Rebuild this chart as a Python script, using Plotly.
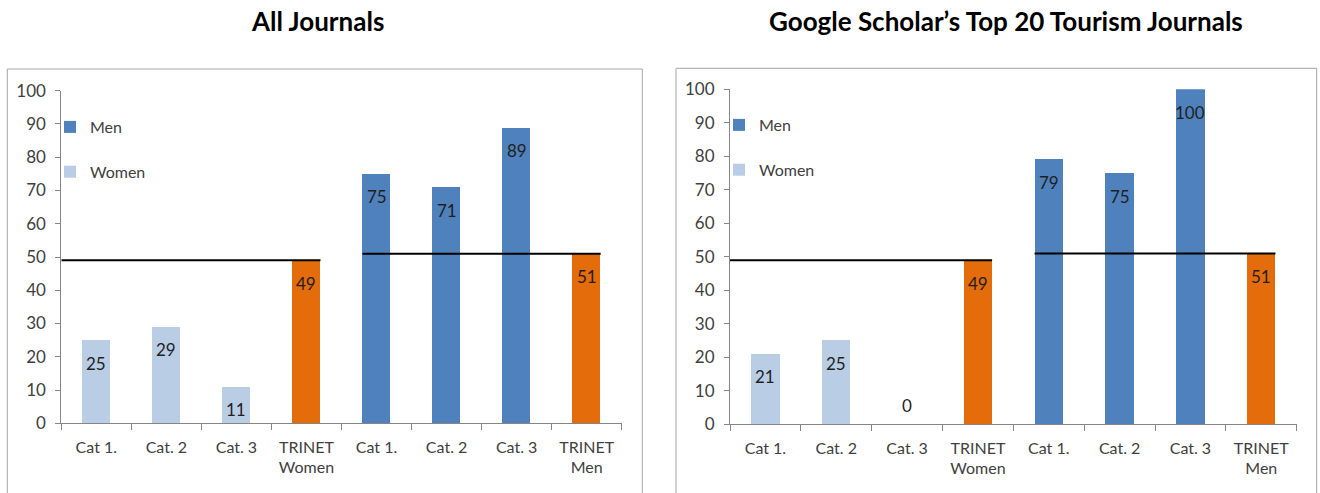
import plotly.graph_objects as go

# ---------------- data ----------------
categories = ["Cat 1.", "Cat. 2", "Cat. 3", "TRINET<br>Women",
              "Cat 1.", "Cat. 2", "Cat. 3", "TRINET<br>Men"]
women_all = [25, 29, 11]
men_all = [75, 71, 89]
trinet_all = [49, 51]          # TRINET women, TRINET men
women_top20 = [21, 25, 0]
men_top20 = [79, 75, 100]
trinet_top20 = [49, 51]
titles = ["All Journals", "Google Scholar’s Top 20 Tourism Journals"]
y_ticks = [0, 10, 20, 30, 40, 50, 60, 70, 80, 90, 100]

# ---------------- style ----------------
FONT = "Lato"
C_WOMEN = "#b9cde5"
C_MEN = "#4f81bd"
C_TRINET = "#e46c0a"
AXIS_C = "#868686"
TEXT_C = "#404040"
LABEL_C = "#1f1f1f"
BAR_W = 0.4

W, H = 1320, 493
panels = [
    dict(women=women_all, men=men_all, trinet=trinet_all,
         xdom=[61.3 / W, 621.7 / W], ydom=[69.7 / H, 402.3 / H],
         box=[7.3 / W, 642.3 / W, (H - 69) / H], title_x=317 / W,
         legend_xy=(50 / W, (H - 110) / H)),
    dict(women=women_top20, men=men_top20, trinet=trinet_top20,
         xdom=[730 / W, 1296.7 / W], ydom=[68.7 / H, 403.7 / H],
         box=[676 / W, 1316.7 / W, (H - 68.3) / H], title_x=1006.5 / W,
         legend_xy=(719 / W, (H - 108) / H)),
]

fig = go.Figure()
annotations = []
shapes = []

n_w = len(women_all)
x_women = list(range(n_w))
x_tw = n_w
x_men = list(range(n_w + 1, n_w + 1 + len(men_all)))
x_tm = n_w + 1 + len(men_all)
x_all = list(range(len(categories)))

for k, p in enumerate(panels):
    sfx = "" if k == 0 else str(k + 1)
    xa, ya = "x" + sfx, "y" + sfx
    leg = "legend" if k == 0 else "legend2"

    fig.add_trace(go.Bar(x=x_men, y=p["men"], width=BAR_W, name="Men",
                         marker=dict(color=C_MEN, line=dict(width=0)),
                         xaxis=xa, yaxis=ya, legend=leg, legendgroup="m" + sfx))
    fig.add_trace(go.Bar(x=x_women, y=p["women"], width=BAR_W, name="Women",
                         marker=dict(color=C_WOMEN, line=dict(width=0)),
                         xaxis=xa, yaxis=ya, legend=leg, legendgroup="w" + sfx))
    fig.add_trace(go.Bar(x=[x_tw, x_tm], y=p["trinet"], width=BAR_W, name="TRINET",
                         marker=dict(color=C_TRINET, line=dict(width=0)),
                         xaxis=xa, yaxis=ya, showlegend=False))
    # reference lines at TRINET share
    fig.add_trace(go.Scatter(x=[x_all[0] - 0.5, x_tw + BAR_W / 2],
                             y=[p["trinet"][0]] * 2, mode="lines",
                             line=dict(color="black", width=2),
                             xaxis=xa, yaxis=ya, showlegend=False, hoverinfo="skip"))
    fig.add_trace(go.Scatter(x=[x_men[0] - BAR_W / 2, x_tm + BAR_W / 2],
                             y=[p["trinet"][1]] * 2, mode="lines",
                             line=dict(color="black", width=2),
                             xaxis=xa, yaxis=ya, showlegend=False, hoverinfo="skip"))

    # data labels
    vals = list(p["women"]) + [p["trinet"][0]] + list(p["men"]) + [p["trinet"][1]]
    for xi, v in zip(x_all, vals):
        annotations.append(dict(
            x=xi, y=v, xref=xa, yref=ya, text=str(v), showarrow=False,
            yanchor="middle", yshift=(-23 if v > 0 else 19),
            font=dict(family=FONT, size=17, color=LABEL_C)))

    # axes
    fig.update_layout(**{
        "xaxis" + sfx: dict(
            domain=p["xdom"], anchor=ya, range=[-0.5, len(categories) - 0.5],
            tickmode="array", tickvals=x_all, ticktext=categories,
            ticks="", showline=True, linecolor=AXIS_C, linewidth=1,
            showgrid=False, zeroline=False, fixedrange=True, automargin=False,
            ticklabelstandoff=9,
            tickfont=dict(family=FONT, size=16, color=TEXT_C),
            minor=dict(tickmode="linear", tick0=-0.5, dtick=1, ticks="outside",
                       ticklen=6, tickcolor=AXIS_C, tickwidth=1, showgrid=False)),
        "yaxis" + sfx: dict(
            domain=p["ydom"], anchor=xa, range=[0, 100],
            tickmode="array", tickvals=y_ticks,
            ticks="outside", ticklen=5, tickcolor=AXIS_C,
            showline=True, linecolor=AXIS_C, linewidth=1,
            showgrid=False, zeroline=False, fixedrange=True, automargin=False,
            ticklabelstandoff=6,
            tickfont=dict(family=FONT, size=17, color=TEXT_C)),
        leg: dict(x=p["legend_xy"][0], y=p["legend_xy"][1], xanchor="left",
                  yanchor="top", bgcolor="rgba(0,0,0,0)", traceorder="grouped",
                  tracegroupgap=21, itemwidth=30, borderwidth=0,
                  font=dict(family=FONT, size=16, color=TEXT_C)),
    })

    # chart frame
    shapes.append(dict(type="rect", xref="paper", yref="paper",
                       x0=p["box"][0], x1=p["box"][1], y0=-0.2, y1=p["box"][2],
                       line=dict(color="#a6a6a6", width=1), layer="below"))
    # title
    annotations.append(dict(x=p["title_x"], y=(H - 21) / H, xref="paper", yref="paper",
                            text="<b>" + titles[k] + "</b>", showarrow=False,
                            xanchor="center", yanchor="middle",
                            font=dict(family=FONT, size=26, color="black")))

fig.update_layout(
    template="none",
    width=W, height=H, margin=dict(l=0, r=0, t=0, b=0, pad=0, autoexpand=False),
    paper_bgcolor="white", plot_bgcolor="white",
    barmode="overlay", bargap=0,
    annotations=annotations, shapes=shapes,
    font=dict(family=FONT),
)

fig.write_html("out.html",
               config={"displayModeBar": False, "staticPlot": False},
               post_script="document.body.style.margin='0px';document.body.style.overflow='hidden';")
